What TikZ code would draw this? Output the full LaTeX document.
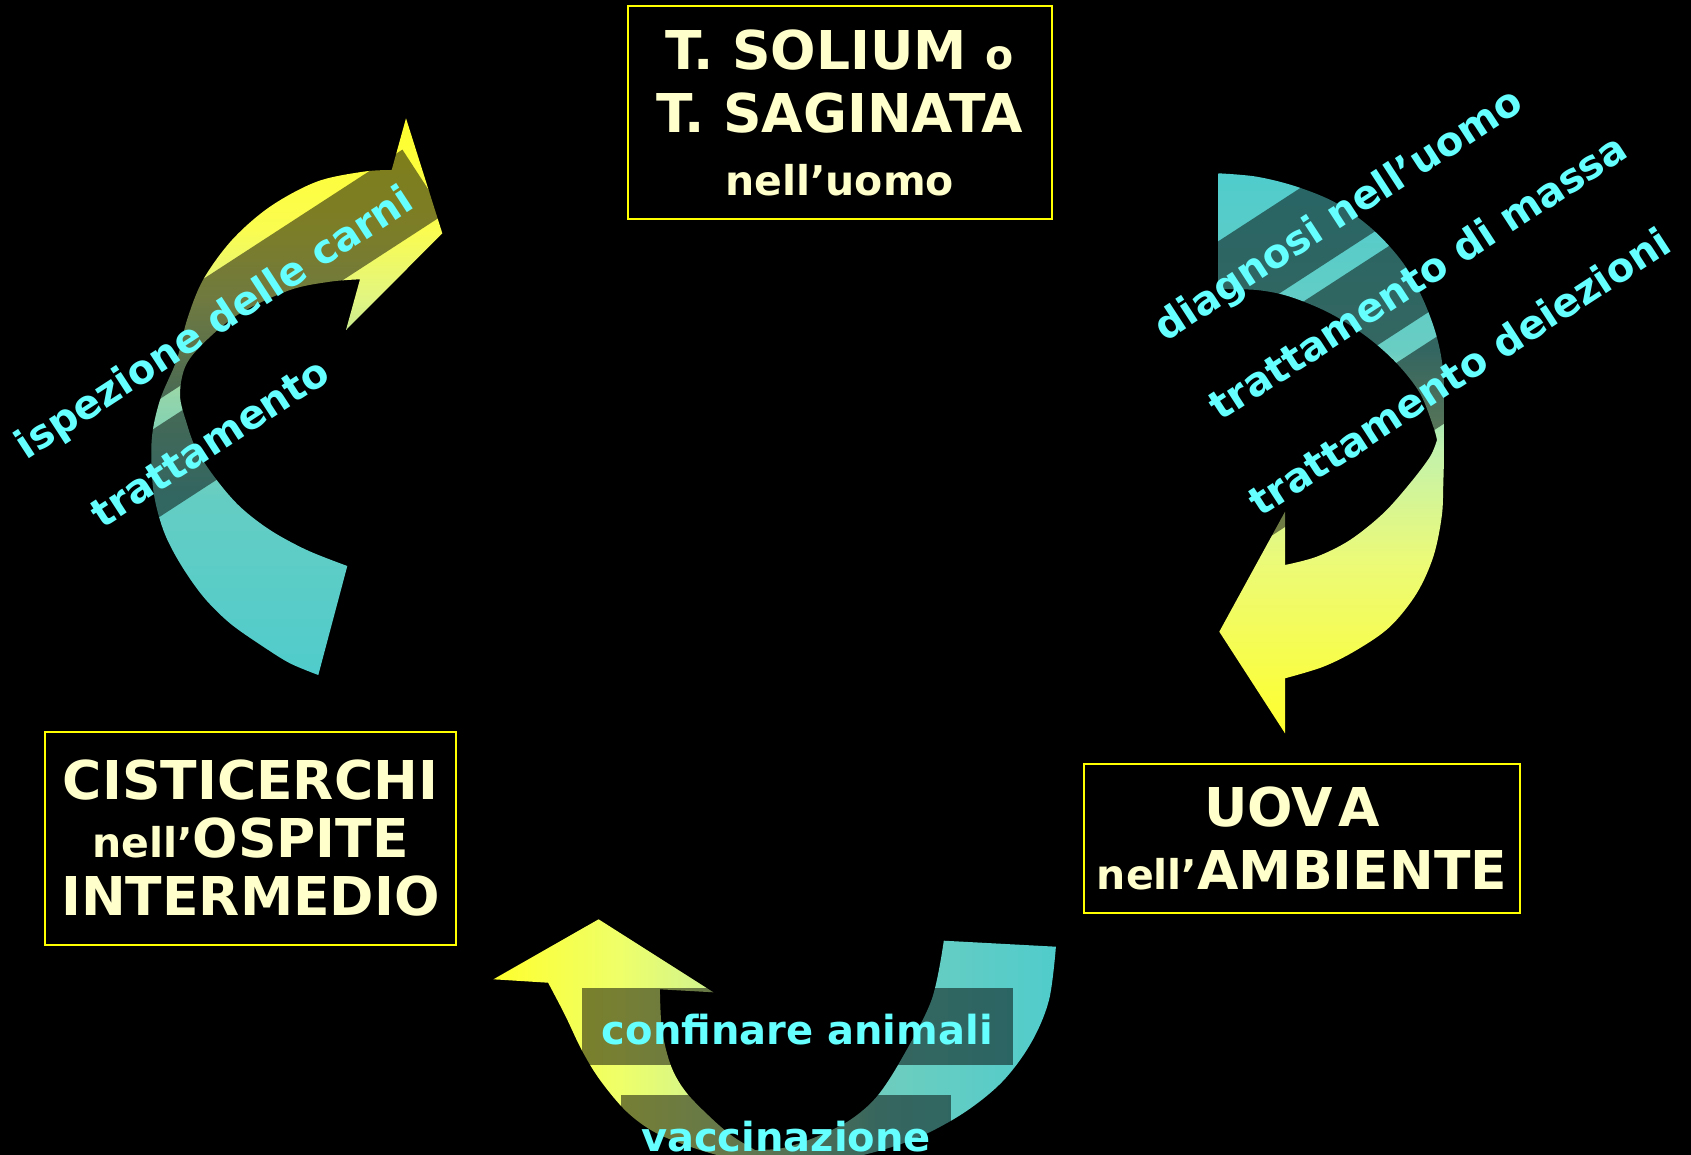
\documentclass[tikz,border=0pt]{standalone}
\usepackage{fontspec}
\setmainfont{DejaVu Sans}
\definecolor{cream}{RGB}{255,255,204}
\definecolor{lbl}{RGB}{102,255,255}
\definecolor{framecol}{RGB}{255,255,0}
\definecolor{cyn}{RGB}{80,204,204}
\definecolor{ylw}{RGB}{255,255,45}
\pgfdeclareverticalshading{leftarrowshade}{100bp}{%
  color(0bp)=(cyn); color(25bp)=(cyn);
  color(40.7bp)=(rgb,255:red,100;green,205;blue,195);
  color(49.7bp)=(rgb,255:red,145;green,212;blue,172);
  color(58.7bp)=(rgb,255:red,225;green,245;blue,130);
  color(65bp)=(rgb,255:red,250;green,252;blue,80);
  color(75bp)=(ylw); color(100bp)=(ylw)}
\pgfdeclareverticalshading{rightarrowshade}{100bp}{%
  color(0bp)=(ylw); color(25bp)=(ylw);
  color(40.5bp)=(rgb,255:red,235;green,250;blue,120);
  color(50.3bp)=(rgb,255:red,195;green,242;blue,172);
  color(59.2bp)=(rgb,255:red,105;green,205;blue,195);
  color(75bp)=(cyn); color(100bp)=(cyn)}
\pgfdeclarehorizontalshading{bottomarrowshade}{100bp}{%
  color(0bp)=(ylw); color(25bp)=(ylw);
  color(36.3bp)=(rgb,255:red,238;green,255;blue,105);
  color(47.8bp)=(rgb,255:red,195;green,238;blue,160);
  color(59.4bp)=(rgb,255:red,110;green,205;blue,190);
  color(75bp)=(cyn); color(100bp)=(cyn)}
\newcommand\CAP[1]{{\fontsize{53.5}{63}\selectfont #1}}
\begin{document}
\begin{tikzpicture}[x=1pt,y=-1pt,
  lab/.style={fill=black, fill opacity=0.5, text opacity=1, text=lbl,
    font=\fontsize{40}{48}\selectfont\bfseries, inner xsep=20pt, inner ysep=0pt,
    text height=56pt, text depth=21pt},
  rlab/.style={lab, rotate=33},
  box/.style={draw=framecol, line width=2pt, fill=black, text=cream, align=center,
    inner sep=0pt, font=\fontsize{41}{63}\selectfont\bfseries},
  smoothplot/.style={smooth, tension=0.55}]
\fill[black] (0,0) rectangle (1691,1155);
\useasboundingbox (0,0) rectangle (1691,1155);

% left arrow (cysticerci -> adult)
\shade[shading=leftarrowshade]
  (318.3,675) -- plot[smoothplot] coordinates {(318.3,675) (290,663.3) (263.3,646.7) (230,623.3) (203.3,596.7) (180,563.3) (163.3,530) (153.3,490) (151.7,440) (160,400) (176.7,360) (187,320) (203,280) (232,240) (270,206.7) (316.7,181.7) (363.3,171.7) (391.7,170)}
  -- (406,118.3) -- (442.3,233.3) -- (346,330) -- (360,279.3)
  -- plot[smoothplot] coordinates {(360,279.3) (330,281.7) (290,290) (240,313.3) (206.7,340) (186,365) (180,395) (186.7,423.3) (196.7,450) (216.7,480) (240,506.7) (270,530) (306.7,550) (347.3,566)}
  -- cycle;

% right arrow (adult -> eggs)
\shade[shading=rightarrowshade]
  (1218.3,173.3) -- plot[smoothplot] coordinates {(1218.3,173.3) (1256.7,176.7) (1296.7,186.7) (1336.7,203.3) (1373.3,230) (1403.3,263.3) (1423.3,300) (1436.7,336.7) (1443.3,373.3) (1444.5,426.7) (1443.3,483.3) (1441.7,516.7) (1433.3,556.7) (1416.7,593.3) (1390,626.7) (1356.7,650) (1323.3,666.7) (1285,678.3)}
  -- (1285,733.3) -- (1219.3,631.7) -- (1285,511.7) -- (1285,565)
  -- plot[smoothplot] coordinates {(1285,565) (1316.7,556.7) (1350,540) (1383.3,513.3) (1410,483.3) (1430,456.7) (1437,440)}
  -- plot[smoothplot] coordinates {(1437,440) (1433.3,426.7) (1420,393.3) (1396.7,363.3) (1366.7,336.7) (1330,313.3) (1290,296.7) (1256.7,290) (1218.3,289.3)}
  -- cycle;

% bottom arrow (eggs -> cysticerci)
\shade[shading=bottomarrowshade]
  (493.4,979.3) -- (598.6,919.3) -- (713.4,992.3) -- (659.9,989.3)
  -- plot[smoothplot] coordinates {(659.9,989.3) (662,1030) (671.3,1066.7) (686.7,1093) (713.3,1120) (733.3,1136.7) (755,1150)}
  -- plot[smoothplot] coordinates {(755,1150) (783,1148) (816.7,1136.7) (850,1120) (876.7,1096.7) (900.9,1060) (931.5,1000) (943.8,940.7)}
  -- (1055.9,946.7)
  -- plot[smoothplot] coordinates {(1055.9,946.7) (1049,1000) (1031,1043) (1002,1082) (962,1114) (912,1140) (850,1158) (790,1165) (740,1160) (700,1150) (656.7,1133.3) (626.7,1111.7) (600,1080) (581.7,1050) (565,1015) (548.1,982.7)}
  -- cycle;

% control measures
\node[rlab] (ispe) at (212,319.2) {ispezione delle carni};
\node[rlab] (tratt) at (208,439.5) {trattamento};
\node[rlab] (diag) at (1335.9,210.8) {diagnosi nell’uomo};
\node[rlab] (massa) at (1416.2,274.2) {trattamento di massa};
\node[rlab] (deiez) at (1457.6,369) {trattamento deiezioni};
\node[lab] (conf) at (797.3,1026.7) {confinare animali};
\node[lab] (vacc) at (786,1133.5) {vaccinazione};

% stages
\node[box, minimum width=424pt, minimum height=213pt] (adult) at (839.5,112.7)
  {\CAP{T. SOLIUM }o\\\CAP{T. SAGINATA}\\nell’uomo};
\node[box, minimum width=411pt, minimum height=213pt, font=\fontsize{41}{58}\selectfont\bfseries] (cyst) at (250.5,838.3)
  {\CAP{CISTICERCHI}\\nell’\CAP{OSPITE}\\\CAP{INTERMEDIO}};
\node[box, minimum width=436pt, minimum height=149pt] (eggs) at (1302,838.7)
  {\CAP{UOV\kern5pt A}\kern20pt\\nell’\CAP{AMBIENTE}};
\end{tikzpicture}
\end{document}
